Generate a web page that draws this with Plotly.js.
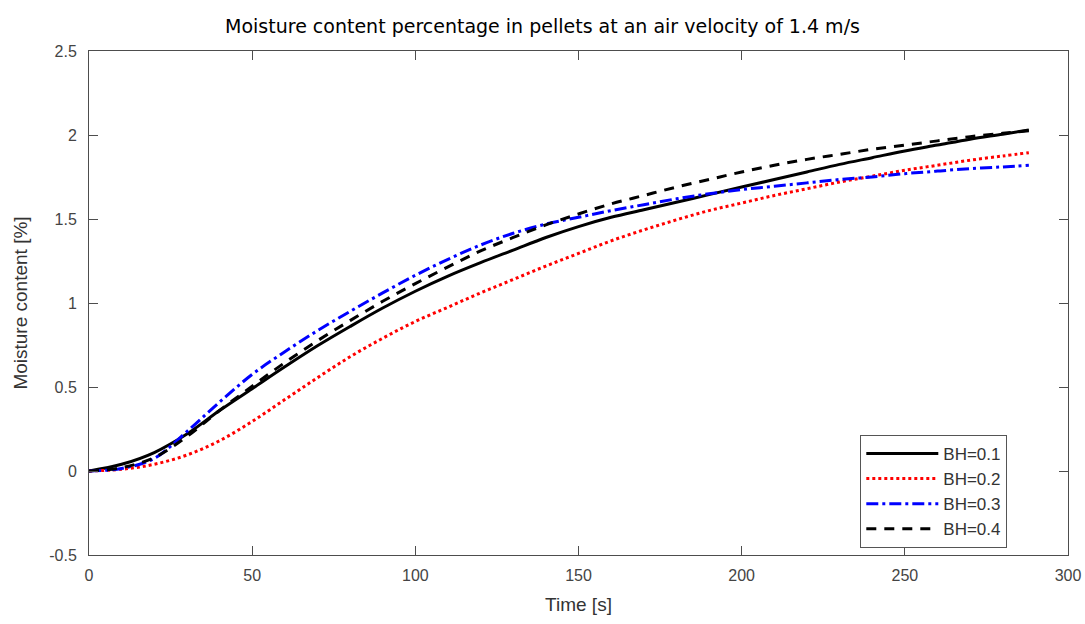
<!DOCTYPE html>
<html>
<head>
<meta charset="utf-8">
<script src="https://cdn.plot.ly/plotly-3.0.1.min.js"></script>
<style>html,body{margin:0;padding:0;background:#fff;}#chart{width:1085px;height:624px;}</style>
</head>
<body>
<div id="chart"></div>
<script>
const time = [0,10,20,30,40,50,60,70,80,90,100,110,120,130,140,150,160,170,180,190,200,210,220,230,240,250,260,270,280,288];
const bh01 = [0,0.04,0.11,0.22,0.36,0.49,0.62,0.745,0.86,0.97,1.07,1.16,1.24,1.315,1.39,1.455,1.51,1.555,1.60,1.645,1.69,1.735,1.78,1.825,1.865,1.905,1.94,1.975,2.005,2.03];
const bh02 = [0,0.01,0.04,0.095,0.18,0.295,0.425,0.555,0.68,0.79,0.89,0.975,1.06,1.14,1.22,1.295,1.37,1.435,1.495,1.55,1.595,1.64,1.68,1.72,1.755,1.79,1.82,1.85,1.875,1.895];
const bh03 = [0,0.015,0.075,0.235,0.41,0.575,0.71,0.835,0.95,1.06,1.165,1.26,1.345,1.415,1.47,1.51,1.55,1.585,1.62,1.65,1.675,1.695,1.715,1.735,1.75,1.77,1.785,1.80,1.81,1.82];
const bh04 = [0,0.02,0.08,0.205,0.36,0.505,0.645,0.775,0.895,1.01,1.115,1.215,1.31,1.39,1.465,1.53,1.59,1.64,1.69,1.735,1.78,1.82,1.855,1.885,1.915,1.94,1.965,1.99,2.01,2.025];
const seriesNames = ['BH=0.1','BH=0.2','BH=0.3','BH=0.4'];
const xTicks = [0,50,100,150,200,250,300];
const yTicks = [-0.5,0,0.5,1,1.5,2,2.5];
const yTickText = ['-0.5','0','0.5','1','1.5','2','2.5'];

const traces = [
  {x: time, y: bh01, name: seriesNames[0], mode: 'lines', line: {color: '#000000', width: 3, shape: 'spline'}},
  {x: time, y: bh02, name: seriesNames[1], mode: 'lines', line: {color: '#ff0000', width: 3, dash: 'dot', shape: 'spline'}},
  {x: time, y: bh03, name: seriesNames[2], mode: 'lines', line: {color: '#0000ff', width: 3, dash: '12px,4px,3px,4px', shape: 'spline'}},
  {x: time, y: bh04, name: seriesNames[3], mode: 'lines', line: {color: '#000000', width: 3, dash: '10px,8px', shape: 'spline'}}
];

const axisCommon = {
  showgrid: false, zeroline: false, showline: true, mirror: 'ticks',
  linecolor: '#4d4d4d', linewidth: 1, ticks: 'inside', ticklen: 9, tickcolor: '#4d4d4d',
  tickfont: {family: 'Liberation Sans, Arial, sans-serif', size: 16, color: '#444'}
};

const layout = {
  width: 1085, height: 624,
  margin: {l: 89, r: 17, t: 51, b: 69},
  paper_bgcolor: '#ffffff', plot_bgcolor: '#ffffff',
  title: {text: 'Moisture content percentage in pellets at an air velocity of 1.4 m/s',
          font: {family: 'DejaVu Sans, sans-serif', size: 19, color: '#000'},
          x: 0.5, xanchor: 'center', y: 0.958, yanchor: 'middle'},
  xaxis: Object.assign({}, axisCommon, {range: [0, 300], tickvals: xTicks, ticklabelstandoff: 6,
          title: {text: 'Time [s]', font: {family: 'Liberation Sans, Arial, sans-serif', size: 19, color: '#333'}, standoff: 14}}),
  yaxis: Object.assign({}, axisCommon, {range: [-0.5, 2.5], tickvals: yTicks, ticktext: yTickText, ticklabelstandoff: 8,
          title: {text: 'Moisture content [%]', font: {family: 'Liberation Sans, Arial, sans-serif', size: 19, color: '#333'}, standoff: 16}}),
  showlegend: true,
  legend: {x: 0.938, y: 0.014, xanchor: 'right', yanchor: 'bottom',
           bgcolor: '#ffffff', bordercolor: '#555', borderwidth: 1,
           font: {family: 'Liberation Sans, Arial, sans-serif', size: 17, color: '#333'},
           itemwidth: 72, tracegroupgap: 0}
};

Plotly.newPlot('chart', traces, layout, {displayModeBar: false, staticPlot: true});
</script>
</body>
</html>
